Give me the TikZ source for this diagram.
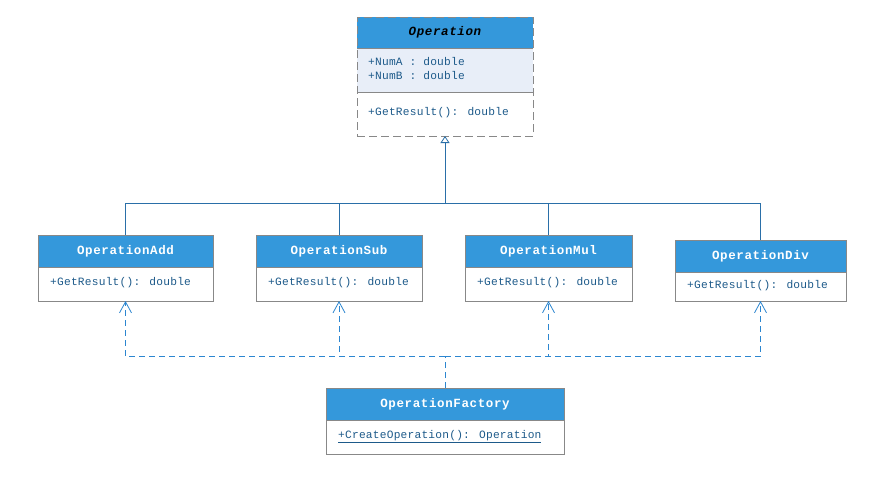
\documentclass[tikz,border=0pt]{standalone}
\usepackage{fontspec}
\newfontfamily\umlfont[LetterSpace=2]{Liberation Mono}
\newfontfamily\umlhead[LetterSpace=5]{Liberation Mono}
\usetikzlibrary{arrows.meta}
\definecolor{hdrblue}{HTML}{3498DB}
\definecolor{attrbg}{HTML}{E8EEF8}
\definecolor{txtblue}{HTML}{1D5A8A}
\definecolor{bordergray}{HTML}{888888}
\definecolor{genline}{HTML}{2A6FA8}
\definecolor{depline}{HTML}{2C86D0}
\tikzset{
  x=1pt, y=-1pt,
  classbox/.style={draw=bordergray, line width=1pt, anchor=north west, inner sep=0pt, outer sep=0pt},
  hdrtext/.style={text=white, font=\umlhead\fontsize{12.5}{14}\selectfont\bfseries, inner sep=0pt},
  memtext/.style={text=txtblue, font=\umlfont\fontsize{11.2}{13}\selectfont, inner sep=0pt, anchor=west},
  genl/.style={draw=genline, line width=0.8pt},
  depl/.style={draw=depline, line width=0.8pt, dash pattern=on 6pt off 4pt},
  deparrow/.style={depl, -{Straight Barb[length=11pt,width=12pt,line width=0.8pt]}},
}
\begin{document}
\begin{tikzpicture}
\useasboundingbox[fill=white] (0,0) rectangle (889,501);

% ---------- Operation (abstract) ----------
\fill[hdrblue] (357,17) rectangle (533,48);
\fill[attrbg] (357,48) rectangle (533,92);
\draw[bordergray, line width=1pt] (357,48) -- (533,48);
\draw[bordergray, line width=1pt] (357,92) -- (533,92);
\node[anchor=north west, minimum width=176pt, minimum height=119pt, inner sep=0pt, outer sep=0pt,
      draw=bordergray, line width=1pt, dash pattern=on 8pt off 4pt] (op) at (357,17) {};
\node[hdrtext, font=\umlhead\fontsize{12.5}{14}\selectfont\bfseries\itshape, text=black] (opn) at (445,32) {Operation};
\node[memtext] (opa) at (368,62) {+NumA : double};
\node[memtext] (opb) at (368,76) {+NumB : double};
\node[memtext] (opm) at (368,113) {+GetResult(): double};

% ---------- subclasses ----------
% Add
\fill[hdrblue] (38,235) rectangle (213,267);
\node[classbox, minimum width=175pt, minimum height=66pt] (add) at (38,235) {};
\draw[bordergray, line width=1pt] (38,267) -- (213,267);
\node[hdrtext] (addn) at (125.5,251) {OperationAdd};
\node[memtext] (addm) at (50,283) {+GetResult(): double};
% Sub
\fill[hdrblue] (256,235) rectangle (422,267);
\node[classbox, minimum width=166pt, minimum height=66pt] (sub) at (256,235) {};
\draw[bordergray, line width=1pt] (256,267) -- (422,267);
\node[hdrtext] (subn) at (339,251) {OperationSub};
\node[memtext] (subm) at (268,283) {+GetResult(): double};
% Mul
\fill[hdrblue] (465,235) rectangle (632,267);
\node[classbox, minimum width=167pt, minimum height=66pt] (mul) at (465,235) {};
\draw[bordergray, line width=1pt] (465,267) -- (632,267);
\node[hdrtext] (muln) at (548.5,251) {OperationMul};
\node[memtext] (mulm) at (477,283) {+GetResult(): double};
% Div
\fill[hdrblue] (675,240) rectangle (846,272);
\node[classbox, minimum width=171pt, minimum height=61pt] (div) at (675,240) {};
\draw[bordergray, line width=1pt] (675,272) -- (846,272);
\node[hdrtext] (divn) at (760.5,256) {OperationDiv};
\node[memtext] (divm) at (687,286) {+GetResult(): double};

% ---------- Factory ----------
\fill[hdrblue] (326,388) rectangle (564,420);
\node[classbox, minimum width=238pt, minimum height=66pt] (fac) at (326,388) {};
\draw[bordergray, line width=1pt] (326,420) -- (564,420);
\node[hdrtext] (facn) at (445,404) {OperationFactory};
\node[memtext] (facm) at (338,437) {\underline{+CreateOperation(): Operation}};

% ---------- generalization ----------
\coordinate (gj) at (445,203);
\draw[genl, -{Triangle[open, length=7pt, width=9pt, line width=0.8pt]}] (gj) -- (op.south);
\draw[genl] (add.north) |- (gj);
\draw[genl] (sub.north) |- (gj);
\draw[genl] (mul.north) |- (gj);
\draw[genl] (div.north) |- (gj);

% ---------- dependencies ----------
\coordinate (dj) at (445,356);
\draw[depl] (fac.north) -- (dj);
\draw[deparrow] (dj) -| (add.south);
\draw[deparrow] (dj) -| (sub.south);
\draw[deparrow] (dj) -| (mul.south);
\draw[deparrow] (dj) -| (div.south);
\end{tikzpicture}
\end{document}
